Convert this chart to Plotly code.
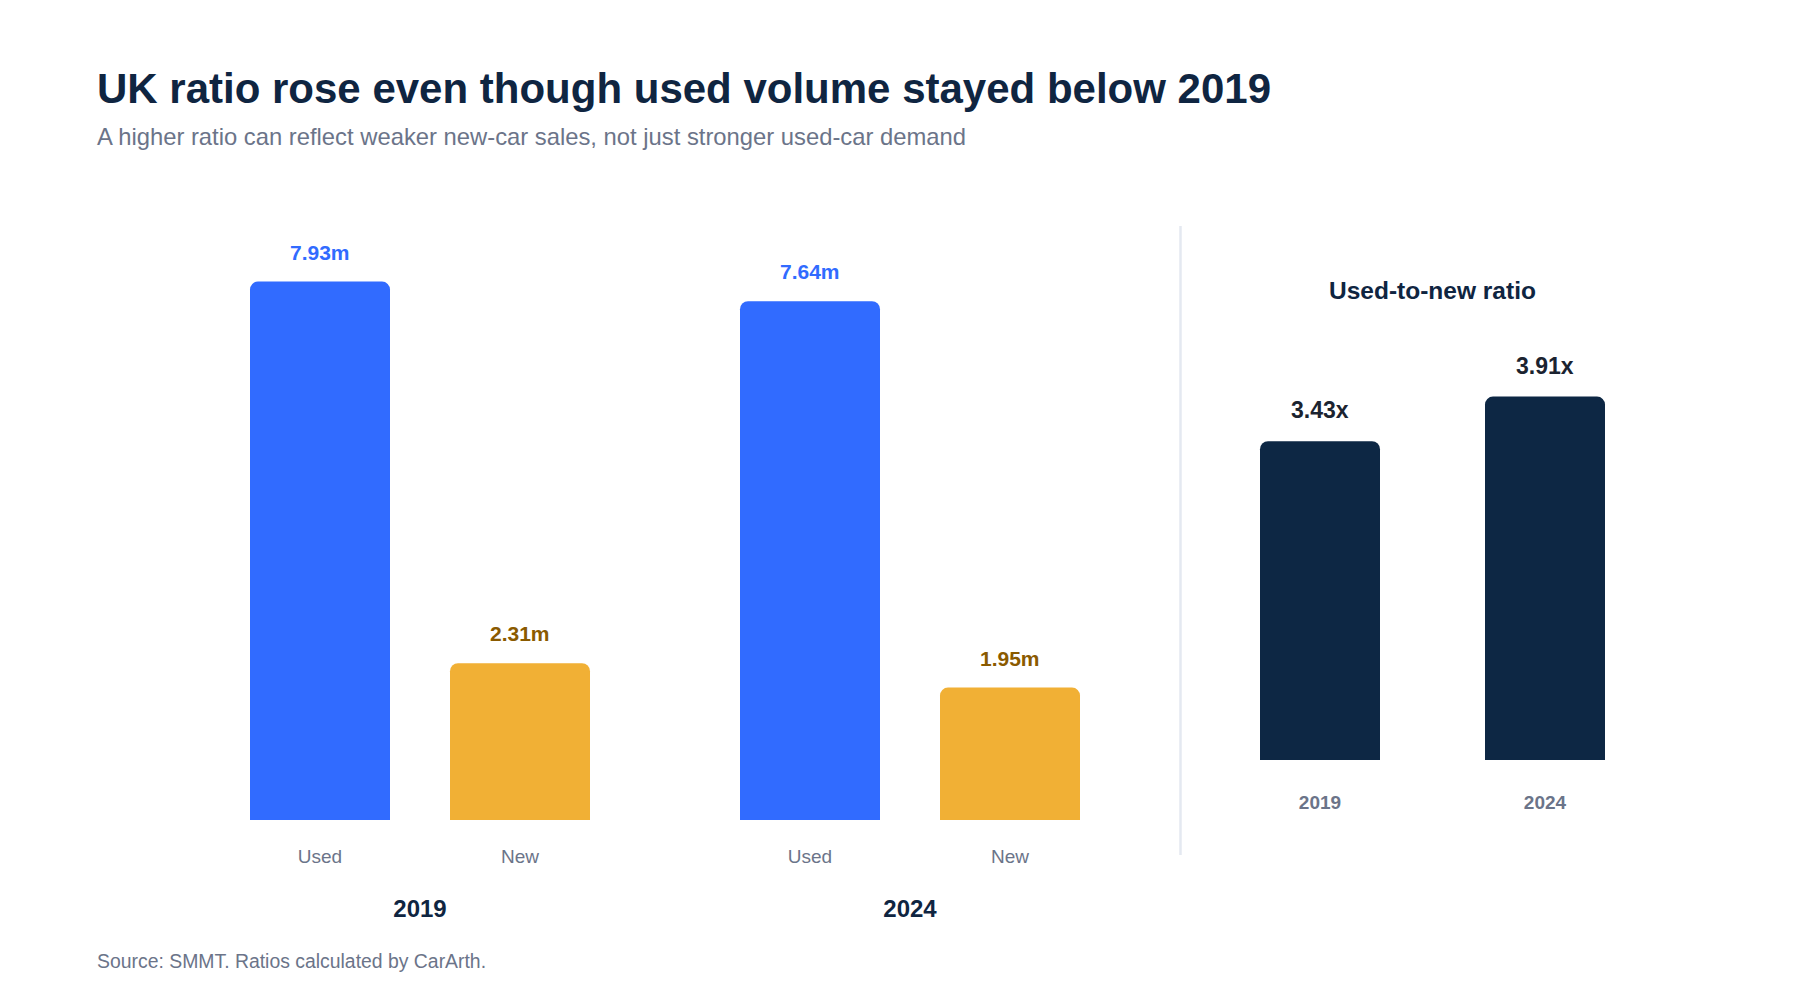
import plotly.graph_objects as go

# ---- data ----
years = ["2019", "2024"]
categories = ["Used", "New"]
used_m = [7.93, 7.64]
new_m = [2.31, 1.95]
ratio = [3.43, 3.91]

title = "UK ratio rose even though used volume stayed below 2019"
subtitle = "A higher ratio can reflect weaker new-car sales, not just stronger used-car demand"
source = "Source: SMMT. Ratios calculated by CarArth."
ratio_title = "Used-to-new ratio"

# ---- style ----
W, H = 1800, 1000
FONT = "Liberation Sans, Arial, sans-serif"
BLUE = "#316BFF"
AMBER = "#F1B035"
AMBER_TXT = "#8A5A00"
NAVY = "#0D2744"
TITLE_C = "#0F2541"
GREY = "#6B7489"
LABEL_DARK = "#1B2330"

def px_x(p):
    return p / W

def px_y(p):
    return 1 - p / H

fig = go.Figure()

# left group bar charts (one subplot per year)
for i, yr in enumerate(years):
    ax = "" if i == 0 else str(i + 1)
    vals = [used_m[i], new_m[i]]
    fig.add_trace(go.Bar(
        x=categories, y=vals, width=0.7,
        marker=dict(color=[BLUE, AMBER], cornerradius=8, line=dict(width=0)),
        xaxis="x" + ax, yaxis="y" + ax, hoverinfo="skip", showlegend=False,
    ))
    for c, v, col in zip(categories, vals, [BLUE, AMBER_TXT]):
        fig.add_annotation(
            x=c, y=v, xref="x" + ax, yref="y" + ax, text=f"<b>{v:.2f}m</b>",
            showarrow=False, yanchor="bottom", yshift=16,
            font=dict(family=FONT, size=21, color=col),
        )

# ratio chart (years placed by index, labelled via ticktext)
year_idx = list(range(len(years)))
fig.add_trace(go.Bar(
    x=year_idx, y=ratio, width=120 / 225,
    marker=dict(color=NAVY, cornerradius=8, line=dict(width=0)),
    xaxis="x3", yaxis="y3", hoverinfo="skip", showlegend=False,
))
for xi, v in zip(year_idx, ratio):
    fig.add_annotation(
        x=xi, y=v, xref="x3", yref="y3", text=f"<b>{v:.2f}x</b>",
        showarrow=False, yanchor="bottom", yshift=16,
        font=dict(family=FONT, size=23, color=LABEL_DARK),
    )

left_range = [0, 620 / 67.9]
right_range = [0, 460 / 92.95]

common_x = dict(showgrid=False, zeroline=False, showline=False,
                ticks="", fixedrange=True)
common_y = dict(showgrid=False, zeroline=False, showline=False,
                showticklabels=False, fixedrange=True)

fig.update_layout(
    width=W, height=H,
    margin=dict(l=0, r=0, t=0, b=0),
    paper_bgcolor="white", plot_bgcolor="white",
    font=dict(family=FONT, color=GREY),
    xaxis=dict(type="category", domain=[px_x(220), px_x(620)], anchor="y",
               range=[-0.5, 1.5],
               tickfont=dict(size=19, color=GREY), ticklabelstandoff=23,
               title=dict(text="<b>2019</b>", standoff=34,
                          font=dict(size=24, color=TITLE_C)), **common_x),
    yaxis=dict(domain=[px_y(820), px_y(200)], range=left_range, anchor="x", **common_y),
    xaxis2=dict(type="category", domain=[px_x(710), px_x(1110)], anchor="y2",
                range=[-0.5, 1.5],
                tickfont=dict(size=19, color=GREY), ticklabelstandoff=23,
                title=dict(text="<b>2024</b>", standoff=34,
                           font=dict(size=24, color=TITLE_C)), **common_x),
    yaxis2=dict(domain=[px_y(820), px_y(200)], range=left_range, anchor="x2", **common_y),
    xaxis3=dict(type="linear", domain=[px_x(1207.5), px_x(1657.5)], anchor="y3",
                range=[-0.5, len(years) - 0.5],
                tickmode="array", tickvals=year_idx, ticktext=years,
                tickfont=dict(size=19, color=GREY, weight="bold"), ticklabelstandoff=29,
                **common_x),
    yaxis3=dict(domain=[px_y(760), px_y(300)], range=right_range, anchor="x3", **common_y),
)

# divider
fig.add_shape(type="line", xref="paper", yref="paper",
              x0=px_x(1180.5), x1=px_x(1180.5), y0=px_y(226), y1=px_y(855),
              line=dict(color="#E4E9F1", width=2.5))

# texts
fig.add_annotation(xref="paper", yref="paper", x=px_x(95), y=px_y(89),
                   xanchor="left", yanchor="middle", showarrow=False,
                   text=f"<b>{title}</b>", font=dict(size=42, color=TITLE_C))
fig.add_annotation(xref="paper", yref="paper", x=px_x(95), y=px_y(136),
                   xanchor="left", yanchor="middle", showarrow=False,
                   text=subtitle, font=dict(size=23.8, color=GREY))
fig.add_annotation(xref="paper", yref="paper", x=px_x(1432.5), y=px_y(290),
                   xanchor="center", yanchor="middle", showarrow=False,
                   text=f"<b>{ratio_title}</b>", font=dict(size=24.5, color=TITLE_C))
fig.add_annotation(xref="paper", yref="paper", x=px_x(95), y=px_y(961),
                   xanchor="left", yanchor="middle", showarrow=False,
                   text=source, font=dict(size=19.4, color=GREY))

fig.write_html("out.html", config={"displayModeBar": False})
